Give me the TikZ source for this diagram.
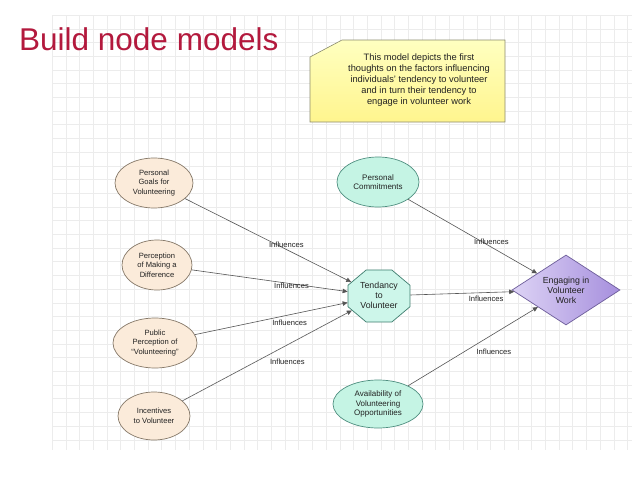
\documentclass[tikz,border=0pt]{standalone}
\usepackage{fontspec}
\usepackage{graphicx}
\setmainfont{Liberation Sans}
\usetikzlibrary{arrows.meta,shapes.geometric}
\definecolor{tanfill}{HTML}{FBEBDA}
\definecolor{tanline}{HTML}{857868}
\definecolor{aquafill}{HTML}{C5F4E4}
\definecolor{aqualine}{HTML}{4F8F80}
\definecolor{octfill}{HTML}{CDF6EA}
\definecolor{octline}{HTML}{3E7D6E}
\definecolor{diaA}{HTML}{DDD3F5}
\definecolor{diaB}{HTML}{A68FDD}
\definecolor{dialine}{HTML}{6D5D9A}
\definecolor{noteA}{HTML}{FFFFC0}
\definecolor{noteB}{HTML}{FFF58E}
\definecolor{noteline}{HTML}{8B8B6E}
\definecolor{gridcol}{HTML}{ECECEC}
\definecolor{titlecol}{HTML}{B3193D}
\definecolor{txt}{HTML}{222222}
\definecolor{arrcol}{HTML}{555555}
\newcommand{\octtext}[1]{\scalebox{0.84}[1]{\begin{tabular}{@{}c@{}}#1\end{tabular}}}
\tikzset{
  nodetext/.style={font=\fontsize{7.6}{9.5}\selectfont, text=txt, align=center, inner sep=0pt},
  bigtext/.style={font=\fontsize{8.8}{10}\selectfont, text=txt, align=center, inner sep=0pt},
  tanell/.style={nodetext, ellipse, draw=tanline, fill=tanfill, line width=0.7pt},
  aquaell/.style={nodetext, font=\fontsize{8}{9.5}\selectfont, ellipse, draw=aqualine, fill=aquafill, line width=0.7pt},
  octbox/.style={bigtext, regular polygon, regular polygon sides=8, minimum size=56.3pt, xscale=1.19, draw=octline, fill=octfill, line width=0.7pt},
  diabox/.style={bigtext, diamond, aspect=1.54, draw=dialine, line width=0.7pt, left color=diaA, right color=diaB, minimum width=108pt, minimum height=70pt},
  infl/.style={draw=arrcol, line width=0.6pt, -{Triangle[length=5pt,width=4.5pt]}},
  lbl/.style={font=\fontsize{7.6}{9}\selectfont, text=txt, inner sep=0pt}
}
\begin{document}
\begin{tikzpicture}[x=1pt,y=-1pt]
\useasboundingbox[fill=white] (0,0) rectangle (638,479);
% grid
\foreach \gx in {52,65.7,...,632} \draw[gridcol, line width=0.4pt] (\gx,15) -- (\gx,450);
\foreach \gy in {15,28.7,...,450} \draw[gridcol, line width=0.4pt] (52,\gy) -- (632,\gy);
% title
\node[anchor=base west, inner sep=0pt, text=titlecol, font=\fontsize{31.5}{36}\selectfont] (title) at (19,50) {Build node models};
% note
\shade[draw=noteline, line width=0.6pt, top color=noteA, bottom color=noteB] (310,57) -- (342,40) -- (505,40) -- (505,122) -- (310,122) -- cycle;
\node[nodetext, font=\fontsize{9.3}{11}\selectfont] (note) at (419,80) {This model depicts the first\\thoughts on the factors influencing\\individuals' tendency to volunteer\\and in turn their tendency to\\engage in volunteer work};
% nodes
\node[tanell, minimum width=78pt, minimum height=50pt] (goals) at (154,183) {Personal\\Goals for\\Volunteering};
\node[tanell, minimum width=70pt, minimum height=50pt] (perc) at (157,265) {Perception\\of Making a\\Difference};
\node[tanell, minimum width=84pt, minimum height=50pt] (public) at (155,343) {Public\\Perception of\\``Volunteering''};
\node[tanell, minimum width=72pt, minimum height=48pt] (incent) at (154,416) {Incentives\\to Volunteer};
\node[aquaell, minimum width=82pt, minimum height=50pt] (commit) at (378,182) {Personal\\Commitments};
\node[aquaell, minimum width=90pt, minimum height=48pt] (avail) at (378,404) {Availability of\\Volunteering\\Opportunities};
\node[octbox] (tend) at (379,296) {\octtext{Tendancy\\to\\Volunteer}};
\node[diabox] (engage) at (566,290) {Engaging in\\Volunteer\\Work};
% connectors
\draw[infl] (goals) -- node[lbl, pos=.61, yshift=5pt] {Influences} (tend);
\draw[infl] (perc) -- node[lbl, pos=.64, yshift=-2pt] {Influences} (tend);
\draw[infl] (public) -- node[lbl, pos=.62, yshift=-8pt] {Influences} (tend);
\draw[infl] (incent) -- node[lbl, pos=.59, xshift=5pt, yshift=-14pt] {Influences} (tend);
\draw[infl] (commit) -- node[lbl, pos=.63, xshift=2pt, yshift=4pt] {Influences} (engage);
\draw[infl] (tend) -- node[lbl, pos=.73, yshift=-6pt] {Influences} (engage);
\draw[infl] (avail) -- node[lbl, pos=.60, xshift=8pt, yshift=-13pt] {Influences} (engage);
\end{tikzpicture}
\end{document}
